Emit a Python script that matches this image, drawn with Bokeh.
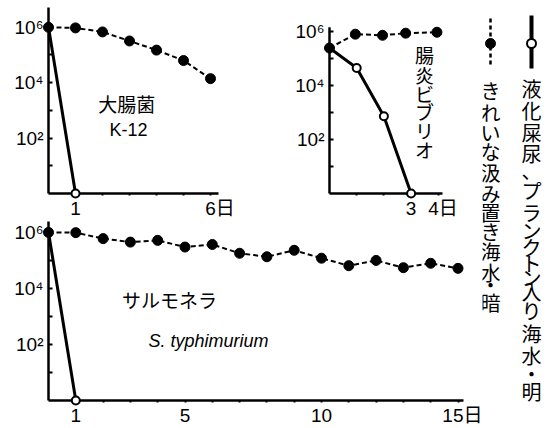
from bokeh.plotting import figure
from bokeh.layouts import row, column
from bokeh.models import FixedTicker, Range1d
from bokeh.core.properties import value
from bokeh.embed import file_html
from bokeh.resources import INLINE

# ---------------- data (bacteria count per ml, days) ----------------
ecoli_dark_days = [0, 1, 2, 3, 4, 5, 6]
ecoli_dark = [1.0e6, 9.5e5, 6.8e5, 3.2e5, 1.5e5, 6.3e4, 1.4e4]
ecoli_light_days = [0, 1]
ecoli_light = [1.0e6, 1.0]

vibrio_dark_days = [0, 0.95, 1.95, 2.8, 3.95]
vibrio_dark = [2.4e5, 7.8e5, 7.1e5, 8.5e5, 9.2e5]
vibrio_light_days = [0, 1, 2, 3]
vibrio_light = [2.4e5, 4.4e4, 7.2e2, 1.0]

salm_dark_days = list(range(16))
salm_dark = [1.0e6, 9.8e5, 6.0e5, 4.5e5, 5.2e5, 3.0e5, 3.7e5, 1.8e5,
             1.35e5, 2.3e5, 1.2e5, 6.5e4, 1.0e5, 5.5e4, 7.9e4, 5.2e4]
salm_light_days = [0, 1]
salm_light = [1.0e6, 1.0]

y_ticks = [1e2, 1e4, 1e6]
y_minor = [1e1, 1e3, 1e5]
y_tick_labels = ["10²", "10⁴", "10⁶"]

legend_light_label = "液化屎尿、プランクトン入り海水・明"
legend_dark_label = "きれいな汲み置き海水・暗"
vibrio_label = "腸炎ビブリオ"

NUM_FONT = "'Liberation Sans', 'Noto Sans CJK JP'"
JP_FONT = "Noto Sans CJK JP"


def panel(w, h, bl, br, bt, bb, x_end, y_top, xt, xl, xm):
    p = figure(width=w, height=h, x_range=Range1d(0, x_end),
               y_range=Range1d(1, y_top), y_axis_type="log", title=None,
               output_backend="svg", toolbar_location=None,
               min_border_left=bl, min_border_right=br,
               min_border_top=bt, min_border_bottom=bb)
    p.grid.visible = False
    p.outline_line_color = None
    p.background_fill_color = "white"
    p.border_fill_color = "white"
    for ax in p.axis:
        ax.axis_line_width = 2.5
        ax.axis_line_color = "black"
        ax.major_tick_line_width = 2
        ax.minor_tick_line_width = 2
        ax.major_tick_line_color = "black"
        ax.minor_tick_line_color = "black"
        ax.major_label_text_font = NUM_FONT
        ax.major_label_text_font_size = "19px"
        ax.major_label_text_color = "black"
    p.xaxis.ticker = FixedTicker(ticks=xt, minor_ticks=xm)
    p.xaxis.major_label_overrides = {t: l for t, l in zip(xt, xl)}
    p.xaxis.major_tick_in = 0
    p.xaxis.major_tick_out = 2
    p.xaxis.minor_tick_in = 0
    p.xaxis.minor_tick_out = 2
    p.xaxis.major_label_standoff = 2
    p.yaxis.ticker = FixedTicker(ticks=y_ticks, minor_ticks=y_minor)
    p.yaxis.major_label_overrides = {int(t): l for t, l in zip(y_ticks, y_tick_labels)}
    p.yaxis.major_tick_in = 4
    p.yaxis.major_tick_out = 0
    p.yaxis.minor_tick_in = 4
    p.yaxis.minor_tick_out = 0
    p.yaxis.major_label_standoff = 5
    return p


def draw(p, dd, dv, ld, lv):
    p.line(ld, lv, line_color="black", line_width=3)
    p.line(dd, dv, line_color="black", line_width=2, line_dash="5 3")
    r1 = p.scatter(dd, dv, size=10, fill_color="black", line_color="black")
    r2 = p.scatter(ld[1:], lv[1:], size=8, fill_color="white",
                   line_color="black", line_width=2)
    r1.level = "overlay"
    r2.level = "overlay"


# --- E. coli --- (frame: x 48..218 px, y 7..195 px; 28 px per decade)
p1 = panel(250, 221, 48, 32, 7, 26, 170 / 27.0, 10 ** (188 / 28.0),
           [1, 6], ["1", "\u20036日"], [2, 3, 4, 5])
draw(p1, ecoli_dark_days, ecoli_dark, ecoli_light_days, ecoli_light)
p1.text(x=[2.9], y=[10 ** 3.25], text=["大腸菌"], text_font=value(JP_FONT),
        text_font_size="19px", text_align="center", text_baseline="middle")
p1.text(x=[2.96], y=[10 ** 2.29], text=["K-12"], text_font=value("Liberation Sans"),
        text_font_size="18px", text_align="center", text_baseline="middle")

# --- Vibrio --- (frame: x 329..442 px, y 7..195 px; visible axis from 27 px)
V_DEC = 27.33
p2 = panel(232, 221, 79, 40, 7, 26, 113 / 27.2, 10 ** (188 / V_DEC),
           [3, 4], ["3", "\u20024日"], [1, 2])
p2.yaxis.axis_line_color = None
axis_seg = p2.segment(x0=[0], y0=[1], x1=[0], y1=[10 ** (168 / V_DEC)],
                      line_color="black", line_width=2.5)
axis_seg.level = "overlay"
draw(p2, vibrio_dark_days, vibrio_dark, vibrio_light_days, vibrio_light)
vib_px = [54, 75, 94, 112, 131, 151]          # vertical layout of the label (px from top)
p2.text(x=[3.49] * len(vibrio_label),
        y=[10 ** ((195 - py) / V_DEC) for py in vib_px],
        text=list(vibrio_label), text_font=value(JP_FONT), text_font_size="19px",
        text_align="center", text_baseline="middle")

# --- Salmonella --- (frame: x 48..463 px, y 221..402 px)
p3 = panel(482, 207, 48, 19, 0, 26, 415 / 27.3, 10 ** (181 / 28.33),
           [1, 5, 10, 15], ["1", "5", "10", "\u200315日"],
           [2, 3, 4, 6, 7, 8, 9, 11, 12, 13, 14])
draw(p3, salm_dark_days, salm_dark, salm_light_days, salm_light)
p3.text(x=[4.43], y=[10 ** 3.6], text=["サルモネラ"], text_font=value(JP_FONT),
        text_font_size="19px", text_align="center", text_baseline="middle")
p3.text(x=[5.86], y=[10 ** 2.12], text=["S. typhimurium"],
        text_font=value("Liberation Sans"), text_font_style="italic",
        text_font_size="18px", text_align="center", text_baseline="middle")

# --- legend (vertical, in page pixels) ---
leg = figure(width=77, height=428, x_range=Range1d(482, 559),
             y_range=Range1d(428, 0), output_backend="svg", title=None,
             toolbar_location=None, min_border=0)
leg.axis.visible = False
leg.grid.visible = False
leg.outline_line_color = None
leg.background_fill_color = "white"
leg.border_fill_color = "white"
lx, dx = 531, 490
leg.line([lx, lx], [15, 68], line_color="black", line_width=4)
leg.scatter([lx], [43], size=9, fill_color="white", line_color="black", line_width=2)
leg.line([dx, dx], [18, 66], line_color="black", line_width=2.5, line_dash="4 3")
leg.scatter([dx], [43], size=10, fill_color="black", line_color="black")
light_px = [88, 110, 132, 153, 170, 190, 212, 230, 247, 263, 277, 291, 310, 333, 355, 373, 391]
dark_px = [90, 112, 132, 151, 172, 193, 212, 231, 251, 272, 284, 302]
leg.text(x=[lx] * len(light_px), y=light_px, text=list(legend_light_label),
         text_font=value(JP_FONT), text_font_size="20px",
         text_align="center", text_baseline="middle")
leg.text(x=[dx] * len(dark_px), y=dark_px, text=list(legend_dark_label),
         text_font=value(JP_FONT), text_font_size="20px",
         text_align="center", text_baseline="middle")

layout = row(column(row(p1, p2), p3), leg)
open("out.html", "w").write(file_html(layout, INLINE))
